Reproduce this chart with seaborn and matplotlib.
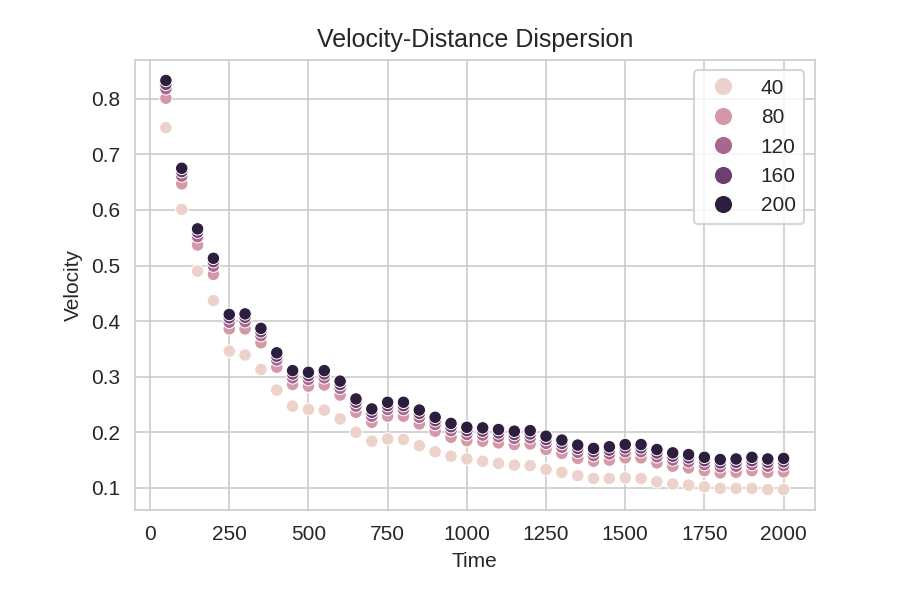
import numpy as np
import pandas as pd
import matplotlib
matplotlib.use("Agg")
import matplotlib.pyplot as plt
import seaborn as sns

# time steps and distance levels
times = list(range(50, 2001, 50))
distances = [40, 80, 120, 160, 200]

vel_40 = [0.748, 0.601, 0.490, 0.437, 0.346, 0.339, 0.313, 0.276, 0.247, 0.241,
          0.240, 0.224, 0.200, 0.184, 0.188, 0.187, 0.176, 0.165, 0.157, 0.152,
          0.148, 0.144, 0.141, 0.140, 0.133, 0.128, 0.122, 0.117, 0.117, 0.118,
          0.117, 0.111, 0.107, 0.105, 0.102, 0.099, 0.099, 0.099, 0.097, 0.097]
vel_80 = [0.801, 0.647, 0.537, 0.484, 0.386, 0.386, 0.361, 0.317, 0.286, 0.283,
          0.285, 0.267, 0.236, 0.218, 0.229, 0.229, 0.215, 0.202, 0.191, 0.185,
          0.184, 0.181, 0.178, 0.179, 0.169, 0.162, 0.153, 0.148, 0.150, 0.154,
          0.154, 0.145, 0.139, 0.136, 0.131, 0.127, 0.128, 0.131, 0.128, 0.129]
vel_120 = [0.818, 0.661, 0.552, 0.499, 0.398, 0.399, 0.374, 0.330, 0.298, 0.295,
           0.298, 0.279, 0.247, 0.229, 0.241, 0.241, 0.227, 0.214, 0.203, 0.196,
           0.195, 0.192, 0.189, 0.190, 0.180, 0.173, 0.164, 0.158, 0.161, 0.165,
           0.165, 0.156, 0.150, 0.147, 0.142, 0.138, 0.139, 0.142, 0.139, 0.140]
vel_160 = [0.826, 0.669, 0.560, 0.507, 0.406, 0.407, 0.381, 0.337, 0.305, 0.302,
           0.305, 0.286, 0.254, 0.236, 0.248, 0.248, 0.234, 0.221, 0.210, 0.203,
           0.202, 0.199, 0.196, 0.197, 0.187, 0.180, 0.171, 0.165, 0.168, 0.172,
           0.172, 0.163, 0.157, 0.154, 0.149, 0.145, 0.146, 0.149, 0.146, 0.147]
vel_200 = [0.833, 0.675, 0.566, 0.513, 0.412, 0.413, 0.387, 0.343, 0.311, 0.308,
           0.311, 0.292, 0.260, 0.242, 0.254, 0.254, 0.240, 0.227, 0.216, 0.209,
           0.208, 0.205, 0.202, 0.203, 0.193, 0.186, 0.177, 0.171, 0.174, 0.178,
           0.178, 0.169, 0.163, 0.160, 0.155, 0.151, 0.152, 0.155, 0.152, 0.153]

series = [vel_40, vel_80, vel_120, vel_160, vel_200]

# long-form frame for seaborn
frames = []
for d, v in zip(distances, series):
    frames.append(pd.DataFrame({'Time': times, 'Velocity': v, 'Distance': d}))
df = pd.concat(frames, ignore_index=True)

sns.set_style("whitegrid")
plt.rcParams['font.family'] = ['Liberation Sans', 'DejaVu Sans']

fig, ax = plt.subplots(figsize=(6, 4), dpi=150)
sns.scatterplot(data=df, x='Time', y='Velocity', hue='Distance', ax=ax)

# legend without title, bigger markers
handles, labels = ax.get_legend_handles_labels()
ax.legend(handles, labels, loc='upper right', markerscale=1.45)

ax.set_title('Velocity-Distance Dispersion', fontsize=12)
fig.subplots_adjust(left=0.15, right=0.905, top=0.9, bottom=0.15)
plt.savefig('out.png', dpi=150)
